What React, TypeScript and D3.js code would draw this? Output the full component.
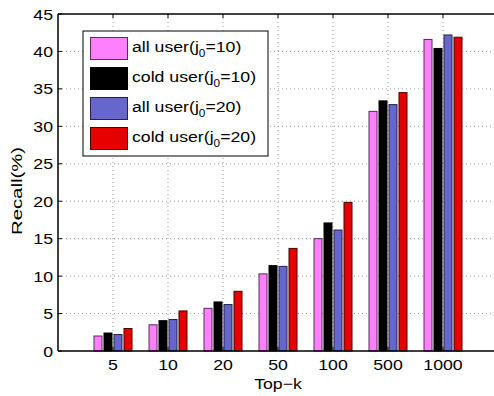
import React from 'react'
import { scaleLinear, scaleBand, range } from 'd3'

const categories = ['5', '10', '20', '50', '100', '500', '1000']
const series = ['all user(j0=10)', 'cold user(j0=10)', 'all user(j0=20)', 'cold user(j0=20)']
const allUser10 = [2.0, 3.5, 5.7, 10.3, 15.0, 32.0, 41.6]
const coldUser10 = [2.4, 4.05, 6.55, 11.4, 17.1, 33.4, 40.4]
const allUser20 = [2.2, 4.2, 6.2, 11.3, 16.15, 32.9, 42.2]
const coldUser20 = [3.0, 5.35, 7.97, 13.7, 19.85, 34.5, 41.9]
const yTicks = [0, 5, 10, 15, 20, 25, 30, 35, 40, 45]

const values = [allUser10, coldUser10, allUser20, coldUser20]
const fills = ['#ff80ff', '#000000', '#6666cc', '#e60000']
const edges = ['#5a2a5a', '#000000', '#22224a', '#4a0000']
const legendLabels = [['all user(j', '=10)'], ['cold user(j', '=10)'], ['all user(j', '=20)'], ['cold user(j', '=20)']]

const W = 494
const H = 396
const margin = { left: 58, top: 14, right: -4, bottom: 45 }
const font = 'Liberation Sans, Arial, sans-serif'
const sx = 1.18 // text in the picture is a little wide

const App = () => {
  const x = scaleLinear().domain([0, 8]).range([margin.left, W - margin.right])
  const y = scaleLinear().domain([0, 45]).range([H - margin.bottom, margin.top])
  const inner = scaleBand<number>().domain(range(series.length)).range([-20, 20]).paddingInner(0.2).paddingOuter(0.1)

  const x0 = x(0), x1 = x(8), y0 = y(0), y1 = y(45)

  return (
    <svg width={W} height={H} style={{ position: 'absolute', left: 0, top: 0, background: '#fff' }} fontFamily={font}>
      {/* grid */}
      {yTicks.slice(1, -1).map(t => (
        <line key={`gy${t}`} x1={x0} x2={x1} y1={y(t)} y2={y(t)} stroke="#999" strokeWidth={1} strokeDasharray="1,3" />
      ))}
      {categories.map((c, i) => (
        <line key={`gx${c}`} x1={x(i + 1)} x2={x(i + 1)} y1={y0} y2={y1} stroke="#999" strokeWidth={1} strokeDasharray="1,3" />
      ))}

      {/* bars */}
      {categories.map((c, i) => (
        <g key={`grp${c}`}>
          {values.map((vals, s) => (
            <rect
              key={`bar${c}-${s}`}
              x={x(i + 1) + (inner(s) as number)}
              y={y(vals[i])}
              width={inner.bandwidth()}
              height={y0 - y(vals[i])}
              fill={fills[s]}
              stroke={edges[s]}
              strokeWidth={1}
            />
          ))}
        </g>
      ))}

      {/* axes box */}
      <line x1={x0} x2={x1} y1={y1} y2={y1} stroke="#000" strokeWidth={1.5} />
      <line x1={x0} x2={x1} y1={y0} y2={y0} stroke="#000" strokeWidth={1.5} />
      <line x1={x0} x2={x0} y1={y0} y2={y1} stroke="#000" strokeWidth={1.5} />
      {yTicks.map(t => (
        <g key={`yt${t}`}>
          <line x1={x0} x2={x0 + 4} y1={y(t)} y2={y(t)} stroke="#000" />
          <text transform={`translate(${x0 - 5}, ${y(t) + 5.5}) scale(${sx}, 1)`} textAnchor="end" fontSize={15}>{t}</text>
        </g>
      ))}
      {categories.map((c, i) => (
        <g key={`xt${c}`}>
          <line x1={x(i + 1)} x2={x(i + 1)} y1={y0} y2={y0 - 4} stroke="#000" />
          <line x1={x(i + 1)} x2={x(i + 1)} y1={y1} y2={y1 + 4} stroke="#000" />
          <text transform={`translate(${x(i + 1)}, ${y0 + 19}) scale(${sx}, 1)`} textAnchor="middle" fontSize={15}>{c}</text>
        </g>
      ))}

      <text transform={`translate(278, 389) scale(${sx}, 1)`} textAnchor="middle" fontSize={15}>Top−k</text>
      <text transform={`translate(22, 191) rotate(-90)`} textAnchor="middle" fontSize={14.5} textLength={88} lengthAdjust="spacingAndGlyphs">Recall(%)</text>

      {/* legend */}
      <g>
        <rect x={83} y={31} width={185} height={125} fill="#fff" stroke="#000" strokeWidth={1} />
        {series.map((s, k) => (
          <g key={`lg${k}`} transform={`translate(0, ${37 + k * 30})`}>
            <rect x={90.5} y={0.5} width={37} height={22} fill={fills[k]} stroke={edges[k]} strokeWidth={1} />
            <text transform={`translate(132, 15) scale(${sx}, 1)`} fontSize={15}>
              {legendLabels[k][0]}
              <tspan dy={5} fontSize={10}>0</tspan>
              <tspan dy={-5}>{legendLabels[k][1]}</tspan>
            </text>
          </g>
        ))}
      </g>
    </svg>
  )
}

export default App
